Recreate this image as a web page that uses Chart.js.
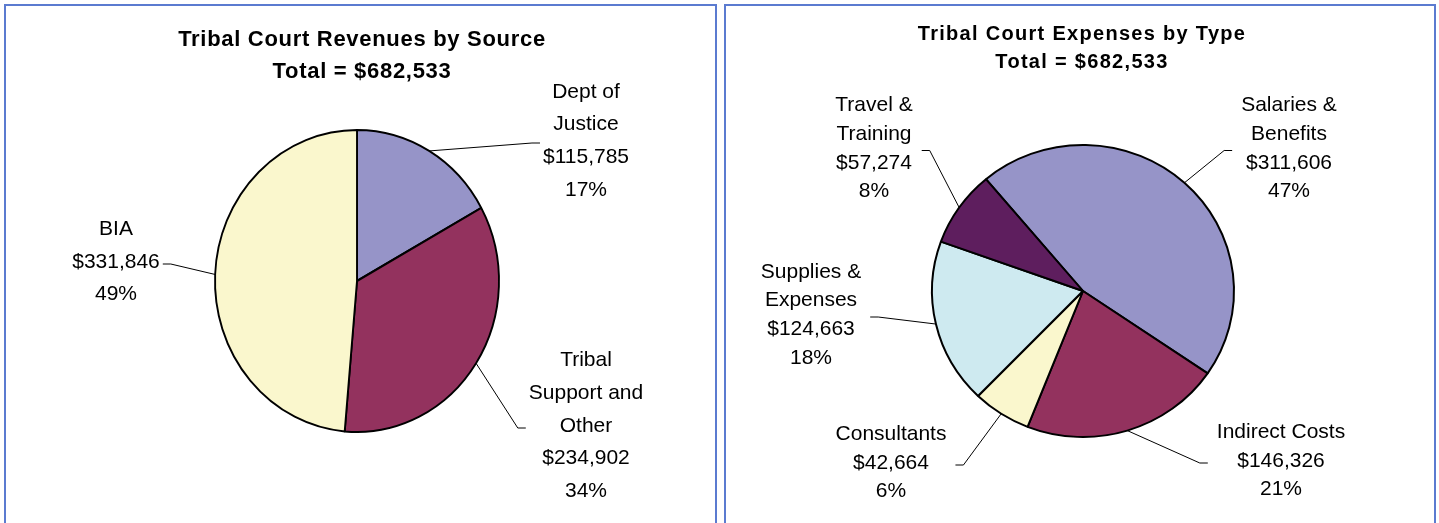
<!DOCTYPE html>
<html>
<head>
<meta charset="utf-8">
<script src="https://cdn.jsdelivr.net/npm/chart.js@4.4.1/dist/chart.umd.min.js"></script>
<style>
  body { margin: 0; background: #fff; width: 1439px; height: 523px; overflow: hidden; position: relative; }
  .panel { position: absolute; top: 4px; height: 560px; border: 2px solid #5b7bd0; box-sizing: border-box; }
  #left-panel { left: 4px; width: 713px; }
  #right-panel { left: 724px; width: 712px; }
  canvas { position: absolute; top: 6px; }
  #revenue-chart { left: 6px; }
  #expense-chart { left: 726px; }
</style>
</head>
<body>
<div class="panel" id="left-panel"></div>
<div class="panel" id="right-panel"></div>
<canvas id="revenue-chart" width="708" height="517"></canvas>
<canvas id="expense-chart" width="708" height="517"></canvas>

<script>
// --- Data ---
const revenueSources = [['Dept of', 'Justice'], ['Tribal', 'Support and', 'Other'], ['BIA']];
const revenueValues = [115785, 234902, 331846];
const revenuePercents = [17, 34, 49];
const revenueColors = ['#9694c8', '#93325e', '#faf7cd'];

const expenseTypes = [['Salaries &', 'Benefits'], ['Indirect Costs'], ['Consultants'], ['Supplies &', 'Expenses'], ['Travel &', 'Training']];
const expenseValues = [311606, 146326, 42664, 124663, 57274];
const expensePercents = [47, 21, 6, 18, 8];
const expenseColors = ['#9694c8', '#93325e', '#faf7cd', '#ceeaf0', '#5e1e5e'];

const FONT = '"Liberation Sans", Arial, sans-serif';
const money = v => '$' + v.toLocaleString('en-US');
const sum = arr => arr.reduce((a, b) => a + b, 0);

// squash the pie into an ellipse and draw titles, leader lines and labels
const pieDecor = {
    id: 'pieDecor',
    beforeDatasetsDraw(chart, args, opts) {
        const arc = chart.getDatasetMeta(0).data[0];
        const ctx = chart.ctx;
        ctx.save();
        ctx.translate(arc.x, arc.y);
        ctx.scale(opts.sx, opts.sy);
        ctx.translate(-arc.x, -arc.y);
    },
    afterDatasetsDraw(chart, args, opts) {
        const ctx = chart.ctx;
        ctx.restore();

        // title
        ctx.save();
        ctx.fillStyle = '#000';
        ctx.font = `bold ${opts.titleSize}px ${FONT}`;
        ctx.textAlign = 'center';
        ctx.textBaseline = 'middle';
        ctx.letterSpacing = opts.titleSpacing + 'px';
        opts.title.forEach((t, k) => ctx.fillText(t, chart.width / 2 + opts.titleShift, opts.titleY[k]));
        ctx.restore();

        // labels
        const meta = chart.getDatasetMeta(0);
        ctx.save();
        ctx.font = `${opts.labelSize}px ${FONT}`;
        ctx.textAlign = 'center';
        ctx.textBaseline = 'middle';
        ctx.fillStyle = '#000';
        ctx.strokeStyle = '#000';
        ctx.lineWidth = 1;
        meta.data.forEach((arc, i) => {
            const p = arc.getProps(['x', 'y', 'startAngle', 'endAngle', 'outerRadius'], true);
            const mid = (p.startAngle + p.endAngle) / 2;
            const ex = p.x + Math.cos(mid) * p.outerRadius * opts.sx;
            const ey = p.y + Math.sin(mid) * p.outerRadius * opts.sy;

            const lines = [...opts.names[i], money(opts.values[i]), opts.percents[i] + '%'];
            const tx = p.x + opts.spots[i][0];
            const ty = p.y + opts.spots[i][1];
            const w = Math.max(...lines.map(l => ctx.measureText(l).width));
            const n = lines.length;
            lines.forEach((l, k) => ctx.fillText(l, tx, ty + (k - (n - 1) / 2) * opts.lineHeight));

            const side = tx > ex ? 1 : -1;
            const endX = tx - side * (w / 2 + opts.gap);
            const tailX = endX - side * 8;
            const endY = ty + 2;
            ctx.beginPath();
            ctx.moveTo(ex, ey);
            ctx.lineTo(tailX, endY);
            ctx.lineTo(endX, endY);
            ctx.stroke();
        });
        ctx.restore();
    }
};

function makePie(id, names, values, percents, colors, layoutPadding, decor) {
    return new Chart(document.getElementById(id), {
        type: 'pie',
        data: {
            labels: names.map(n => n.join(' ')),
            datasets: [{
                data: values,
                backgroundColor: colors,
                borderColor: '#000',
                borderWidth: 2
            }]
        },
        options: {
            responsive: false,
            animation: false,
            radius: 151,
            rotation: decor.rotation,
            layout: { padding: layoutPadding },
            plugins: {
                legend: { display: false },
                tooltip: { enabled: false },
                pieDecor: Object.assign({ names, values, percents }, decor)
            }
        },
        plugins: [pieDecor]
    });
}

makePie('revenue-chart', revenueSources, revenueValues, revenuePercents, revenueColors,
    { left: 151, right: 157, top: 75, bottom: 42 },
    {
        rotation: 0, sx: 142 / 151, sy: 1,
        title: ['Tribal Court Revenues by Source', 'Total = ' + money(sum(revenueValues))],
        titleSize: 22, titleSpacing: 0.7, titleShift: 2, titleY: [34, 66],
        labelSize: 21, lineHeight: 32.7, gap: 3,
        spots: [[229, -140], [229, 145], [-241, -19]]
    });

makePie('expense-chart', expenseTypes, expenseValues, expensePercents, expenseColors,
    { left: 157, right: 151, top: 85, bottom: 32 },
    {
        rotation: -40, sx: 1, sy: 146 / 151,
        title: ['Tribal Court Expenses by Type', 'Total = ' + money(sum(expenseValues))],
        titleSize: 20, titleSpacing: 1.3, titleShift: 2, titleY: [28, 56],
        labelSize: 21, lineHeight: 28.7, gap: 9,
        spots: [[206, -142.5], [198, 170], [-192, 172], [-272, 24], [-209, -142.5]]
    });
</script>
</body>
</html>
